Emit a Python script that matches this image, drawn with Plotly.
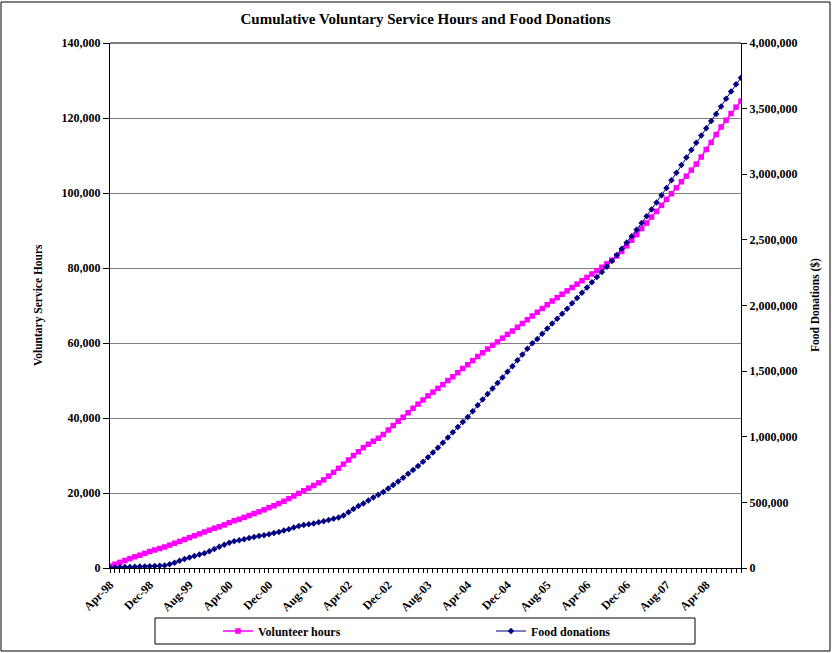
import plotly.graph_objects as go

# ---- data ----
MONTH_ABBR = ["Jan", "Feb", "Mar", "Apr", "May", "Jun", "Jul", "Aug", "Sep", "Oct", "Nov", "Dec"]
START_YEAR = 1998
START_MONTH = 4  # April
N_MONTHS = 128   # Apr-98 .. Nov-08

months = []
for k in range(N_MONTHS):
    m = (START_MONTH - 1 + k) % 12
    y = START_YEAR + (START_MONTH - 1 + k) // 12
    months.append(f"{MONTH_ABBR[m]}-{y % 100:02d}")

label_step = 8
tick_text = [mo if i % label_step == 0 else "" for i, mo in enumerate(months)]

volunteer_hours = [
    500, 1000, 1500, 2000, 2500, 3000, 3400, 3900, 4400, 4800,
    5200, 5600, 6100, 6600, 7100, 7600, 8100, 8600, 9100, 9600,
    10100, 10600, 11000, 11500, 12100, 12600, 13000, 13500, 14000, 14500,
    15000, 15500, 16100, 16600, 17200, 17800, 18500, 19200, 19900, 20600,
    21300, 22000, 22700, 23500, 24500, 25500, 26600, 27700, 28800, 30000,
    31000, 32100, 33000, 33800, 34600, 35600, 36800, 38000, 39100, 40200,
    41400, 42600, 43700, 44800, 45900, 46900, 47900, 48900, 50000, 51000,
    52100, 53200, 54200, 55300, 56400, 57400, 58400, 59400, 60300, 61300,
    62300, 63200, 64200, 65200, 66200, 67200, 68200, 69200, 70200, 71200,
    72100, 73000, 73900, 74800, 75700, 76600, 77500, 78400, 79300, 80200,
    81100, 82100, 83200, 84400, 85900, 87400, 88900, 90500, 92000, 93600,
    95100, 96700, 98300, 99800, 101400, 103000, 104500, 106100, 107700, 109600,
    111600, 113500, 115600, 117600, 119400, 121200, 122900, 124500,
]

food_donations = [
    2000, 4000, 5000, 7000, 8000, 10000, 11000, 12000, 13000, 15000,
    17000, 20000, 28000, 40000, 55000, 68000, 80000, 92000, 102000, 112000,
    128000, 145000, 162000, 178000, 193000, 204000, 212000, 220000, 228000, 236000,
    243000, 250000, 258000, 266000, 275000, 285000, 296000, 308000, 320000, 328000,
    334000, 340000, 348000, 357000, 366000, 376000, 385000, 400000, 425000, 450000,
    472000, 492000, 515000, 537000, 558000, 580000, 605000, 632000, 660000, 688000,
    718000, 747000, 778000, 810000, 843000, 880000, 917000, 955000, 995000, 1035000,
    1075000, 1112000, 1150000, 1195000, 1240000, 1283000, 1325000, 1367000, 1410000, 1452000,
    1495000, 1538000, 1582000, 1626000, 1670000, 1712000, 1745000, 1785000, 1825000, 1862000,
    1900000, 1938000, 1975000, 2017000, 2057000, 2097000, 2137000, 2177000, 2217000, 2256000,
    2296000, 2340000, 2385000, 2432000, 2480000, 2528000, 2578000, 2628000, 2680000, 2732000,
    2785000, 2840000, 2895000, 2955000, 3012000, 3070000, 3128000, 3185000, 3240000, 3295000,
    3350000, 3405000, 3460000, 3517000, 3575000, 3630000, 3685000, 3735000,
]

title_text = "Cumulative Voluntary Service Hours and Food Donations"
left_title = "Voluntary Service Hours"
right_title = "Food Donations ($)"
series_names = ["Volunteer hours", "Food donations"]

# ---- layout geometry (pixels) ----
W, H = 832, 653
PL, PR, PT, PB = 110, 741, 43, 568
pw, ph = PR - PL, PB - PT

def px_x(px):
    return (px - PL) / pw

def px_y(py):
    return (PB - py) / ph

FONT = "Liberation Serif, Times New Roman, serif"

fig = go.Figure()
fig.add_trace(go.Scatter(
    x=months, y=volunteer_hours, name=series_names[0], mode="lines+markers",
    line=dict(color="#FF00FF", width=1.5),
    marker=dict(symbol="square", size=5.5, color="#FF00FF"),
    yaxis="y",
))
fig.add_trace(go.Scatter(
    x=months, y=food_donations, name=series_names[1], mode="lines+markers",
    line=dict(color="#000080", width=1),
    marker=dict(symbol="diamond", size=5, color="#000080"),
    yaxis="y2",
))

tickfont = dict(family=FONT, size=12, color="black", weight="bold")

fig.update_layout(
    width=W, height=H,
    margin=dict(l=PL, r=W - PR, t=PT, b=H - PB, pad=0, autoexpand=False),
    paper_bgcolor="white", plot_bgcolor="white",
    showlegend=True,
    title=dict(text=f"<b>{title_text}</b>", x=px_x(425.5), xref="paper", xanchor="center",
               y=1 - 19 / H, yref="container", yanchor="middle",
               font=dict(family=FONT, size=15, color="black")),
    xaxis=dict(
        type="category", range=[0, N_MONTHS - 1],
        tickmode="array", tickvals=months, ticktext=tick_text,
        tickangle=-45, tickfont=tickfont,
        ticks="outside", ticklen=4, tickcolor="black", tickwidth=1,
        showline=True, linecolor="black", linewidth=1,
        showgrid=False, zeroline=False, fixedrange=True,
    ),
    xaxis2=dict(
        type="category", range=[0, N_MONTHS - 1], overlaying="x",
        tickmode="array", tickvals=months, ticktext=[""] * N_MONTHS,
        ticks="inside", ticklen=4, tickcolor="black", tickwidth=1,
        showticklabels=False, showline=False, showgrid=False, zeroline=False,
        anchor="y",
    ),
    yaxis=dict(
        range=[0, 140000], dtick=20000, tickformat=",", tickfont=tickfont,
        ticks="outside", ticklen=6, tickcolor="black",
        showline=True, linecolor="black", linewidth=1,
        showgrid=True, gridcolor="#808080", gridwidth=1, zeroline=False,
    ),
    yaxis2=dict(
        range=[0, 4000000], dtick=500000, tickformat=",", tickfont=tickfont,
        overlaying="y", side="right",
        ticks="outside", ticklen=5, tickcolor="black",
        showline=True, linecolor="black", linewidth=1,
        showgrid=False, zeroline=False,
    ),
    legend=dict(
        orientation="h", x=px_x(218), xanchor="left", y=px_y(631), yanchor="middle",
        font=dict(family=FONT, size=12, color="black", weight="bold"),
        entrywidth=228, entrywidthmode="pixels",
        bgcolor="rgba(0,0,0,0)", borderwidth=0,
        itemwidth=30,
    ),
    annotations=[
        dict(text=f"<b>{left_title}</b>", xref="paper", yref="paper",
             x=px_x(38), y=px_y(305), textangle=-90, showarrow=False,
             font=dict(family=FONT, size=11.5, color="black"), xanchor="center", yanchor="middle"),
        dict(text=f"<b>{right_title}</b>", xref="paper", yref="paper",
             x=px_x(815), y=px_y(305), textangle=-90, showarrow=False,
             font=dict(family=FONT, size=11.5, color="black"), xanchor="center", yanchor="middle"),
    ],
    shapes=[
        dict(type="line", xref="paper", yref="paper", x0=0, x1=1, y0=1, y1=1,
             line=dict(color="black", width=1)),
        dict(type="rect", xref="paper", yref="paper",
             x0=px_x(155), x1=px_x(695), y0=px_y(644), y1=px_y(618),
             line=dict(color="black", width=1), fillcolor="rgba(0,0,0,0)"),
        dict(type="rect", xref="paper", yref="paper",
             x0=px_x(1), x1=px_x(830), y0=px_y(651), y1=px_y(2),
             line=dict(color="black", width=1), fillcolor="rgba(0,0,0,0)"),
    ],
)

fig.write_html("out.html", config={"displayModeBar": False},
               post_script="document.body.style.margin='0px';document.body.style.padding='0px';")
